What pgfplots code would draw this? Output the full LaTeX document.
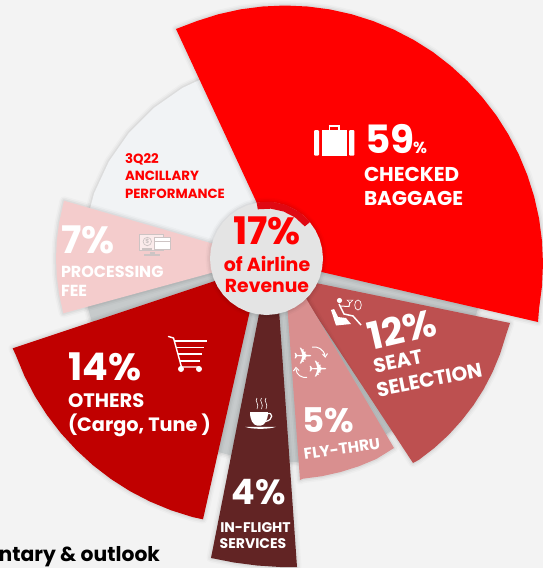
\documentclass[border=0pt]{standalone}
\usepackage{pgfplots}
\usepackage{fontspec}
\pgfplotsset{compat=1.18}
\setmainfont{Poppins}
\newfontfamily\dejavu{DejaVu Sans}
\definecolor{bgc}{HTML}{F3F3F3}
\definecolor{lightw}{HTML}{F1F3F5}
\definecolor{ringc}{HTML}{C6CACB}
\definecolor{bigred}{HTML}{FF0000}
\definecolor{seatc}{HTML}{BD5050}
\definecolor{flyc}{HTML}{D98F8F}
\definecolor{infl}{HTML}{622424}
\definecolor{othc}{HTML}{C00000}
\definecolor{proc}{HTML}{F4CCCC}
\definecolor{hub}{HTML}{E4E4E4}
\definecolor{arcred}{HTML}{E00812}
\definecolor{iconc}{HTML}{CDC4C4}
\pgfplotstableread{
x y
0 0
543 0
543 568
0 568
}\tBg
\pgfplotstableread{
x y
283 262
480.9 296.9
471.9 330.7
457.1 362.5
437 391.2
412.2 416
383.5 436.1
351.7 450.9
317.9 459.9
283 463
248.1 459.9
214.3 450.9
182.5 436.1
153.8 416
129 391.2
108.9 362.5
94.1 330.7
85.1 296.9
82 262
}\tRing
\pgfplotstableread{
x y
283 262
82 262
85.1 227.1
94.1 193.3
108.9 161.5
129 132.8
153.8 108
182.5 87.9
214.3 73.1
}\tLight
\pgfplotstableread{
x y
285 263.5
176 29
196.8 21.1
218.2 14.3
240.2 9.4
262.5 6.5
285 5.5
307.5 6.5
329.8 9.4
351.8 14.3
373.2 21.1
394 29.7
414 40.1
433 52.1
450.8 65.9
467.4 81.1
482.6 97.7
496.4 115.5
508.4 134.5
518.8 154.5
527.4 175.3
534.2 196.7
539.1 218.7
542 241
543 263.5
542 286
539.1 308.3
538 322
}\tBag
\pgfplotstableread{
x y
291.5 278
510 323
505.9 335.5
500.1 353.9
492.7 371.8
483.8 389
473.4 405.3
461.5 420.7
448.5 435
434.2 448.1
418.8 459.9
413 463
}\tSeat
\pgfplotstableread{
x y
284 261
394 448
376.3 459
358.7 466.3
340.6 472
321.9 476.2
303 478.7
300 480
}\tFly
\pgfplotstableread{
x y
274 238
297 567
280 567
257 565.5
234 562.5
211 558
}\tInf
\pgfplotstableread{
x y
260 266
12.7 348.3
15.7 354.9
24.4 375.9
34.8 396
47 415.1
60.8 433.1
76.2 449.8
92.9 465.2
110.9 479
130 491.2
150.1 501.6
171.1 510.3
192.7 517.1
203 519.3
}\tOth
\pgfplotstableread{
x y
264 258.5
64 200.7
59.2 222.4
56.8 240.4
56 258.5
56.8 276.6
59.2 294.6
63.3 313.3
}\tProc
\pgfplotstableread{
x y
323 258.5
322.1 248.7
319.6 239.2
315.4 230.25
309.8 222.2
302.8 215.2
294.75 209.6
285.8 205.4
276.3 202.9
266.5 202
256.7 202.9
247.2 205.4
238.25 209.6
230.2 215.2
223.2 222.2
217.6 230.25
213.4 239.2
210.9 248.7
210 258.5
210.9 268.3
213.4 277.8
217.6 286.75
223.2 294.8
230.2 301.8
238.25 307.4
247.2 311.6
256.7 314.1
266.5 315
276.3 314.1
285.8 311.6
294.75 307.4
302.8 301.8
309.8 294.8
315.4 286.75
319.6 277.8
322.1 268.3
}\tHub
\pgfplotstableread{
x y
256.6 202.4
271.5 201.7
286 204.9
299.2 211.8
310.2 221.9
304.8 226.4
295.2 217.5
283.6 211.5
270.9 208.7
257.8 209.3
}\tArc
\tikzset{
  sh/.style={draw=black,fill=none,mark=none,line join=round},
  seg/.style={draw=none,fill=#1,mark=none},
  tx/.style={inner sep=0pt,outer sep=0pt,anchor=base west,text=white},
  fsz/.style={font=\fontsize{#1}{#1}\selectfont\bfseries},
}
\newcommand{\shadowed}[2]{%
  \addplot[sh,line width=9pt,opacity=.02] table[x=x,y=y] {#1} -- cycle;
  \addplot[sh,line width=6pt,opacity=.03] table[x=x,y=y] {#1} -- cycle;
  \addplot[sh,line width=3pt,opacity=.04] table[x=x,y=y] {#1} -- cycle;
  \addplot[seg=#2] table[x=x,y=y] {#1} -- cycle;
}
\begin{document}
\begin{tikzpicture}
\begin{axis}[hide axis,scale only axis,width=543pt,height=568pt,
  xmin=0,xmax=543,ymin=0,ymax=568,y dir=reverse,clip=true]
\addplot[seg=bgc] table[x=x,y=y] {\tBg} -- cycle;
\shadowed{\tRing}{ringc}
\shadowed{\tLight}{lightw}
\shadowed{\tProc}{proc}
\shadowed{\tBag}{bigred}
\shadowed{\tSeat}{seatc}
\shadowed{\tFly}{flyc}
\shadowed{\tInf}{infl}
\shadowed{\tOth}{othc}
% hub
\shadowed{\tHub}{hub}
\addplot[seg=arcred] table[x=x,y=y] {\tArc} -- cycle;
% hub text
\node[tx,fsz=38,text=bigred,anchor=base] at (267,244) {17\%};
\node[tx,fsz=19,text=bigred,anchor=base] at (267,271.5) {of Airline};
\node[tx,fsz=18.8,text=bigred,anchor=base] at (267,292.5) {Revenue};
% bag
\node[tx,fsz=39] at (365,153) {59};
\node[tx,fsz=16] at (413,153) {\%};
\node[tx,fsz=20] at (364,181) {CHECKED};
\node[tx,fsz=20] at (364,205) {BAGGAGE};
% suitcase
\fill[white,rounded corners=1pt] (314,130) rectangle (319,155.7);
\fill[white] (321.7,130) rectangle (346.7,155.7);
\fill[white,rounded corners=1pt] (349,130) rectangle (354.3,155.7);
\draw[white,line width=1.4pt] (329.5,130) -- (329.5,126) -- (339,126) -- (339,130);
% 3Q22
\node[tx,fsz=13.3,text=bigred] at (125,163) {3Q22};
\node[tx,fsz=13.3,text=bigred] at (125,180.5) {ANCILLARY};
\node[tx,fsz=13.3,text=bigred] at (125,198) {PERFORMANCE};
% processing
\node[tx,fsz=38] at (61,253) {7\%};
\node[tx,fsz=16] at (61,277) {PROCESSING};
\node[tx,fsz=16] at (61,296) {FEE};
\draw[iconc,fill=proc!40!white,line width=.7pt] (139.5,234) rectangle (163,250);
\draw[iconc,fill=white,line width=.7pt] (154,237.5) rectangle (170.5,249.5);
\draw[iconc,line width=.6pt] (154,241) -- (170.5,241);
\draw[iconc,line width=.7pt] (147.3,241.5) circle[radius=4.2];
\fill[iconc] (142,248) rectangle (152,251);
\fill[iconc] (150,252) rectangle (155,254);
\fill[iconc] (144,254) rectangle (160,255.5);
\node[inner sep=0pt,font=\fontsize{6}{6}\selectfont\bfseries,text=iconc] at (147.3,241.7) {\$};
% others
\node[tx,fsz=38] at (68,380) {14\%};
\node[tx,fsz=19.5] at (68,407) {OTHERS};
\node[tx,fsz=19.3] at (68,431) {(Cargo, Tune )};
\draw[white,line width=1.4pt,line cap=round] (168.5,336.5) -- (173.5,338) -- (181.5,367) -- (199,367);
\draw[white,line width=1.6pt] (174.5,340.7) -- (207,340.7);
\draw[white,line width=1.6pt] (176.5,347.3) -- (204,347.3);
\draw[white,line width=1.6pt] (178,354) -- (202,354);
\draw[white,line width=1.6pt] (180,360.7) -- (200,360.7);
\fill[white] (181,369) circle[radius=3];
\fill[white] (199,369) circle[radius=3];
% in-flight
\node[tx,fsz=35,anchor=base] at (259,504) {4\%};
\node[tx,fsz=14,anchor=base] at (255.5,532) {IN-FLIGHT};
\node[tx,fsz=14,anchor=base] at (253,548) {SERVICES};
\fill[white] (250,412) -- (268,412) .. controls (268,420) and (265,425) .. (261,425.5) -- (257,425.5) .. controls (253,425) and (250,420) .. (250,412) -- cycle;
\draw[white,line width=1.2pt] (267,414) .. controls (273,411) and (274,420) .. (265.5,421.5);
\fill[white] (245,426.8) .. controls (252,429.5) and (269,429.5) .. (276,426.8) -- cycle;
\draw[white,line width=.6pt] (257,398) .. controls (254,401) and (260,404) .. (257,409);
\draw[white,line width=.6pt] (261.5,398) .. controls (258.5,401) and (264.5,404) .. (261.5,409);
\draw[white,line width=.6pt] (266,398) .. controls (263,401) and (269,404) .. (266,409);
% fly-thru
\node[tx,fsz=34] at (302,432) {5\%};
\node[tx,fsz=15.5,anchor=center,rotate=8] at (342,449) {FLY-THRU};
\node[inner sep=0pt,text=white,font=\dejavu\fontsize{23}{23}\selectfont] at (303,356) {✈};
\node[inner sep=0pt,text=white,font=\dejavu\fontsize{23}{23}\selectfont] at (318,369) {✈};
\draw[white,line width=1pt] (312,347) .. controls (317,346) and (324,349) .. (325,356);
\draw[white,line width=1pt] (322.5,354) -- (325.2,357) -- (327.5,353.5);
\draw[white,line width=1pt] (296,369) .. controls (296,375) and (302,378) .. (307,377.5);
\draw[white,line width=1pt] (293.5,371) -- (296,367.5) -- (299,370.5);
% seat
\node[tx,fsz=38,anchor=center,rotate=13] at (402,329) {12\%};
\node[tx,fsz=20,anchor=base west,rotate=12] at (375,373) {SEAT};
\node[tx,fsz=20,anchor=base west,rotate=11] at (378,397) {SELECTION};
\fill[white] (331,310) -- (334,309) -- (338,317) -- (346,318) -- (351,324) -- (336,325.5) -- cycle;
\fill[white] (339.5,300.5) circle[radius=2.6];
\draw[white,line width=1.5pt] (339,304) -- (344,314) -- (353,316) -- (361,325);
\draw[white,line width=1pt] (340,306) -- (349,306.5) -- (350,302);
\draw[white,line width=.7pt] (358,305) ellipse[x radius=3.3,y radius=5];
\draw[white,line width=.5pt] (347,300) -- (353,300) -- (350,303) -- cycle;
% bottom text
\node[tx,fsz=20.3,text=black,anchor=base east] at (160,561) {ntary \& outlook};
\end{axis}
\end{tikzpicture}
\end{document}
